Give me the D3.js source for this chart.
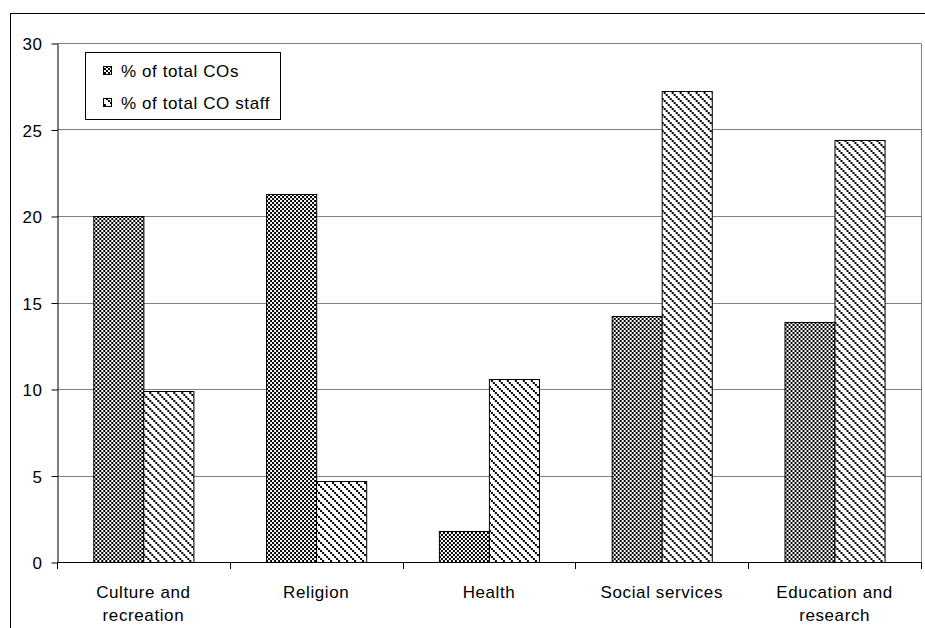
<!DOCTYPE html>
<html>
<head>
<meta charset="utf-8">
<script src="https://cdn.jsdelivr.net/npm/d3@7"></script>
<style>
  html, body { margin: 0; padding: 0; background: #fff; }
  svg text { font-family: "Liberation Sans", Arial, sans-serif; font-size: 17px; letter-spacing: 0.6px; fill: #000; }
</style>
</head>
<body>
<svg id="chart" width="925" height="628"></svg>
<script>
// Non-profit sector shares by field of activity
const categories = ["Culture and recreation", "Religion", "Health", "Social services", "Education and research"];
const categoryLines = [["Culture and", "recreation"], ["Religion"], ["Health"], ["Social services"], ["Education and", "research"]];
const seriesNames = ["% of total COs", "% of total CO staff"];
const pctCOs   = [20.0, 21.3, 1.8, 14.2, 13.9];
const pctStaff = [9.9, 4.7, 10.6, 27.2, 24.4];
const yTicks = [0, 5, 10, 15, 20, 25, 30];

const svg = d3.select("#chart");
const plot = { left: 57, right: 921, top: 43, bottom: 562 };

// Fill patterns: fine checkerboard and stepped downward diagonal
const defs = svg.append("defs");
const checker = defs.append("pattern").attr("id", "pat-checker")
  .attr("patternUnits", "userSpaceOnUse").attr("width", 4).attr("height", 4);
checker.append("rect").attr("width", 4).attr("height", 4).attr("fill", "#fff");
checker.append("rect").attr("x", 0).attr("y", 0).attr("width", 2).attr("height", 2).attr("fill", "#000");
checker.append("rect").attr("x", 2).attr("y", 2).attr("width", 2).attr("height", 2).attr("fill", "#000");

const diag = defs.append("pattern").attr("id", "pat-diag")
  .attr("patternUnits", "userSpaceOnUse").attr("width", 8).attr("height", 8);
diag.append("rect").attr("width", 8).attr("height", 8).attr("fill", "#fff");
[0, 2, 4, 6].forEach(d => diag.append("rect").attr("x", d).attr("y", d)
  .attr("width", 2).attr("height", 2).attr("fill", "#000"));

const fills = ["url(#pat-checker)", "url(#pat-diag)"];

// Outer frame
svg.append("rect").attr("x", 10.5).attr("y", 13.5).attr("width", 930).attr("height", 640)
  .attr("fill", "none").attr("stroke", "#000").attr("stroke-width", 1);

// Scales
const pad = 0.42;
const x = d3.scaleBand().domain(categories).range([plot.left, plot.right])
  .paddingInner(pad).paddingOuter(pad / 2);
const xs = d3.scaleBand().domain(seriesNames).range([0, x.bandwidth()]);
const y = d3.scaleLinear().domain([0, 30]).range([plot.bottom, plot.top]);

// Gridlines
svg.append("g").selectAll("line").data(yTicks.filter(t => t > 0)).join("line")
  .attr("x1", plot.left).attr("x2", plot.right)
  .attr("y1", d => Math.round(y(d)) + 0.5).attr("y2", d => Math.round(y(d)) + 0.5)
  .attr("stroke", "#808080").attr("stroke-width", 1);

// Right border of plot area
svg.append("line")
  .attr("x1", plot.right + 0.5).attr("x2", plot.right + 0.5)
  .attr("y1", Math.round(y(30)) + 0.5).attr("y2", Math.round(y(0)) + 0.5)
  .attr("stroke", "#808080");

// Bars
const rows = categories.map((c, i) => ({ c, values: [pctCOs[i], pctStaff[i]] }));
const groups = svg.append("g").selectAll("g").data(rows).join("g")
  .attr("transform", d => `translate(${x(d.c)},0)`);
groups.selectAll("rect").data(d => d.values.map((v, k) => ({ v, k }))).join("rect")
  .attr("x", d => Math.round(xs(seriesNames[d.k])) + 0.5)
  .attr("y", d => Math.round(y(d.v)) + 0.5)
  .attr("width", xs.bandwidth())
  .attr("height", d => Math.round(y(0)) - Math.round(y(d.v)))
  .attr("fill", d => fills[d.k])
  .attr("stroke", "#000").attr("stroke-width", 1);

// Y axis
const yAxis = svg.append("g").attr("transform", `translate(${plot.left + 0.5},0.5)`)
  .call(d3.axisLeft(y).tickValues(yTicks).tickSize(6).tickPadding(9).tickSizeOuter(0));
yAxis.select(".domain").attr("stroke", "#000");
yAxis.selectAll(".tick line").attr("stroke", "#000");
yAxis.selectAll(".tick text").attr("font-size", null).attr("font-family", null).attr("dy", "0.36em");

// X axis baseline and category boundary ticks
svg.append("line").attr("x1", plot.left).attr("x2", plot.right + 1)
  .attr("y1", Math.round(y(0)) + 0.5).attr("y2", Math.round(y(0)) + 0.5)
  .attr("stroke", "#000");
const boundaries = d3.range(categories.length + 1).map(i => x.range()[0] + i * x.step());
svg.append("g").selectAll("line").data(boundaries).join("line")
  .attr("x1", d => Math.round(d) + 0.5).attr("x2", d => Math.round(d) + 0.5)
  .attr("y1", Math.round(y(0))).attr("y2", Math.round(y(0)) + 7)
  .attr("stroke", "#000");

// Category labels
const labels = svg.append("g").selectAll("text").data(categories).join("text")
  .attr("text-anchor", "middle")
  .attr("transform", d => `translate(${x(d) + x.bandwidth() / 2},598)`);
labels.each(function (d, i) {
  d3.select(this).selectAll("tspan").data(categoryLines[i]).join("tspan")
    .attr("x", 0).attr("y", (t, j) => j * 23).text(t => t);
});

// Legend
const legend = svg.append("g");
legend.append("rect").attr("x", 85.5).attr("y", 52.5).attr("width", 195).attr("height", 67)
  .attr("fill", "#fff").attr("stroke", "#000");
seriesNames.forEach((name, k) => {
  const rowY = 66 + k * 32;
  legend.append("rect").attr("x", 103.5).attr("y", rowY + 0.5).attr("width", 8).attr("height", 8)
    .attr("fill", fills[k]).attr("stroke", "#000");
  legend.append("text").attr("x", 121).attr("y", rowY + 11).text(name);
});
</script>
</body>
</html>
